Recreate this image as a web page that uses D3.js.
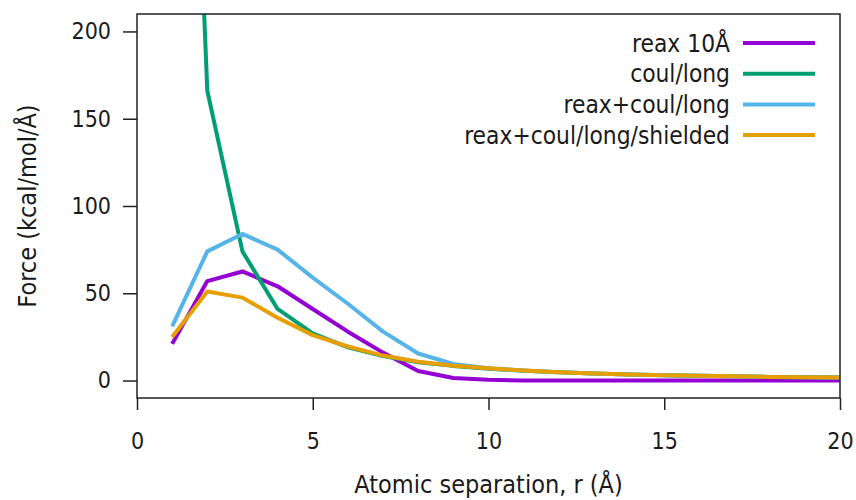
<!DOCTYPE html>
<html>
<head>
<meta charset="utf-8">
<script src="https://cdn.jsdelivr.net/npm/d3@7"></script>
<style>
  html, body { margin: 0; padding: 0; background: #fff; }
  svg text { font-family: "DejaVu Sans Condensed", "DejaVu Sans", sans-serif; fill: #1a1a1a; }
</style>
</head>
<body>
<svg id="chart" width="856" height="500"></svg>
<script>
// Atomic separation r (Å)
const separation = [1, 2, 3, 4, 5, 6, 7, 8, 9, 10, 11, 12, 13, 14, 15, 16, 17, 18, 19, 20];

// Force (kcal/mol/Å) for each potential
const reax10 = [21, 57, 62.5, 54, 41, 28, 16, 5.5, 1.5, 0.5, 0, 0, 0, 0, 0, 0, 0, 0, 0, 0];
const coulLong = [660, 166, 74, 41, 27, 19, 14, 10.5, 8.4, 6.8, 5.6, 4.7, 4.0, 3.5, 3.0, 2.7, 2.4, 2.1, 1.9, 1.7];
const reaxCoulLong = [31, 74, 84, 75, 59, 44, 28, 15.5, 9.5, 7, 5.7, 4.8, 4.1, 3.5, 3.0, 2.7, 2.4, 2.1, 1.9, 1.7];
const reaxCoulLongShielded = [25, 51, 47.5, 36, 26, 19.5, 14.3, 10.8, 8.5, 7, 5.7, 4.8, 4.1, 3.5, 3.0, 2.7, 2.4, 2.1, 1.9, 1.7];

const seriesNames = ["reax 10Å", "coul/long", "reax+coul/long", "reax+coul/long/shielded"];
const seriesColors = ["#9400d3", "#009e73", "#56b4e9", "#e69f00"];

const xTicks = [0, 5, 10, 15, 20];
const yTicks = [0, 50, 100, 150, 200];

const series = [reax10, coulLong, reaxCoulLong, reaxCoulLongShielded].map((vals, i) => ({
  name: seriesNames[i],
  color: seriesColors[i],
  points: vals.map((v, j) => ({ x: separation[j], y: v }))
}));

const svg = d3.select("#chart");
const plot = { left: 137, right: 840, top: 14, bottom: 398 };

const x = d3.scaleLinear().domain([0, 20]).range([plot.left, plot.right]);
const y = d3.scaleLinear().domain([-10, 210]).range([plot.bottom, plot.top]);

// Clip the curves to the plotting frame
svg.append("defs").append("clipPath").attr("id", "plot-clip")
  .append("rect")
  .attr("x", plot.left).attr("y", plot.top)
  .attr("width", plot.right - plot.left).attr("height", plot.bottom - plot.top);

const line = d3.line().x(d => x(d.x)).y(d => y(d.y));

svg.append("g").attr("clip-path", "url(#plot-clip)")
  .selectAll("path").data(series).join("path")
  .attr("d", d => line(d.points))
  .attr("fill", "none")
  .attr("stroke", d => d.color)
  .attr("stroke-width", 4)
  .attr("stroke-linejoin", "round");

// Axes with outward ticks
const xAxis = d3.axisBottom(x).tickValues(xTicks).tickSize(12).tickPadding(23).tickFormat(d3.format("d"));
const yAxis = d3.axisLeft(y).tickValues(yTicks).tickSize(14).tickPadding(12).tickFormat(d3.format("d"));

const gx = svg.append("g").attr("transform", `translate(0,${plot.bottom})`).call(xAxis);
const gy = svg.append("g").attr("transform", `translate(${plot.left},0)`).call(yAxis);

[gx, gy].forEach(g => {
  g.select(".domain").remove();
  g.selectAll(".tick line").attr("stroke", "#222").attr("stroke-width", 1.5);
  g.selectAll(".tick text").attr("font-size", 23).style("fill", "#1a1a1a");
});

// Frame around the plotting area
svg.append("rect")
  .attr("x", plot.left).attr("y", plot.top)
  .attr("width", plot.right - plot.left).attr("height", plot.bottom - plot.top)
  .attr("fill", "none").attr("stroke", "#222").attr("stroke-width", 1.5);

// Axis titles
svg.append("text")
  .attr("x", (plot.left + plot.right) / 2).attr("y", 493)
  .attr("text-anchor", "middle").attr("font-size", 25)
  .text("Atomic separation, r (Å)");

svg.append("text")
  .attr("transform", `translate(36,${(plot.top + plot.bottom) / 2}) rotate(-90)`)
  .attr("text-anchor", "middle").attr("font-size", 25)
  .text("Force (kcal/mol/Å)");

// Legend
const legend = svg.append("g");
const legendRows = legend.selectAll("g").data(series).join("g")
  .attr("transform", (d, i) => `translate(0,${43 + i * 30.7})`);
legendRows.append("text")
  .attr("x", 730).attr("dy", "0.35em")
  .attr("text-anchor", "end").attr("font-size", 24.3)
  .text(d => d.name);
legendRows.append("line")
  .attr("x1", 743).attr("x2", 815)
  .attr("stroke", d => d.color).attr("stroke-width", 4);
</script>
</body>
</html>
